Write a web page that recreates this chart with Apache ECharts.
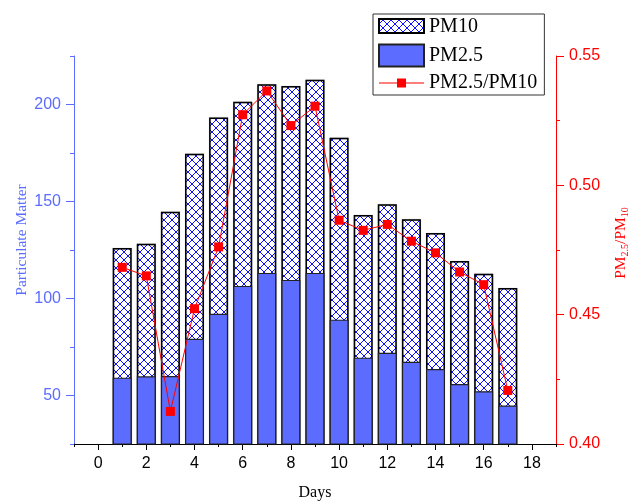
<!DOCTYPE html>
<html>
<head>
<meta charset="utf-8">
<script src="https://cdn.jsdelivr.net/npm/echarts@6/dist/echarts.min.js"></script>
<style>html,body{margin:0;padding:0;background:#fff}#c{width:635px;height:502px}</style>
</head>
<body>
<div id="c"></div>
<script>
const days = [1,2,3,4,5,6,7,8,9,10,11,12,13,14,15,16,17];
const pm10 = [126.0,128.2,144.7,174.6,193.3,201.4,210.4,209.5,212.7,182.9,143.0,148.6,140.9,133.7,119.3,112.8,105.4];
const pm25 = [59.2,59.9,60.0,79.2,92.1,106.5,113.2,109.6,113.2,89.1,69.5,72.0,67.4,63.6,55.9,52.2,44.8];
const ratio = [0.4683,0.4650,0.4126,0.4523,0.4762,0.5273,0.5365,0.5231,0.5306,0.4865,0.4826,0.4849,0.4784,0.4739,0.4665,0.4616,0.4207];
const xTicks = [0,2,4,6,8,10,12,14,16,18];
const leftTicks = [50,100,150,200];
const rightTicks = [0.40,0.45,0.50,0.55];

const tile = document.createElement('canvas');
tile.width = 8; tile.height = 8;
const g = tile.getContext('2d');
g.fillStyle = '#fff'; g.fillRect(0,0,8,8);
g.strokeStyle = '#1010ff'; g.lineWidth = 1;
g.beginPath();
g.moveTo(-1,-1); g.lineTo(9,9);
g.moveTo(-1,9); g.lineTo(9,-1);
g.stroke();

const blue = '#5b6cff';
const red = '#ff0000';
const hatchIcon = 'path://M0 0M45 22M0 3L45 3L45 17L0 17Z';
const lineIcon = 'path://M0 0M45 22M0 10.5L18 10.5L18 6.5L27 6.5L27 10.5L45 10.5L45 11.5L27 11.5L27 15.5L18 15.5L18 11.5L0 11.5Z';
const chart = echarts.init(document.getElementById('c'), null, {renderer:'canvas'});
chart.setOption({
  animation:false,
  backgroundColor:'#fff',
  grid:{left:74,right:79,top:56,bottom:58, outerBoundsMode:'none', containLabel:false},
  legend:{
    orient:'vertical', left:373, top:14, padding:[1,7,1,5],
    itemWidth:45, itemHeight:22, itemGap:4.5,
    borderColor:'#333', borderWidth:1,
    textStyle:{fontFamily:'Liberation Serif', fontSize:20, color:'#000'},
    data:[{name:'PM10', icon:hatchIcon},{name:'PM2.5', icon:'rect'},{name:'PM2.5/PM10', icon:lineIcon}]
  },
  xAxis:[{
    type:'value', min:-1, max:19, interval:1,
    name:'Days', nameLocation:'middle', nameGap:41, nameMoveOverlap:false,
    nameTextStyle:{fontFamily:'Liberation Serif', fontSize:16, color:'#000'},
    axisLine:{show:true, onZero:false, lineStyle:{color:'#000', width:1}},
    axisTick:{show:true, length:6, customValues:xTicks, lineStyle:{color:'#000'}},
    axisLabel:{fontFamily:'Liberation Sans', fontSize:16, color:'#000', margin:12, customValues:xTicks,
      formatter:v=> xTicks.includes(v) ? String(v) : ''},
    splitLine:{show:false}
  },{
    type:'value', min:-1, max:19, interval:1, position:'bottom',
    axisLine:{show:false, onZero:false},
    axisTick:{show:true, length:3, lineStyle:{color:'#000'}},
    axisLabel:{show:false}, splitLine:{show:false}
  }],
  yAxis:[{
    type:'value', min:25, max:225, interval:25, position:'left',
    name:'Particulate Matter', nameLocation:'middle', nameGap:44, nameRotate:90, nameMoveOverlap:false,
    nameTextStyle:{fontFamily:'Liberation Serif', fontSize:15.5, color:blue, padding:[0,0,0,20]},
    axisLine:{show:true, onZero:false, lineStyle:{color:blue, width:1}},
    axisTick:{show:true, length:8, customValues:leftTicks, lineStyle:{color:blue}},
    axisLabel:{fontFamily:'Liberation Sans', fontSize:16, color:blue, margin:13, customValues:leftTicks,
      formatter:v=> leftTicks.includes(v) ? String(v) : ''},
    splitLine:{show:false}
  },{
    type:'value', min:0.40, max:0.55, interval:0.05, position:'right',
    name:'PM{s|2.5}/PM{s|10}', nameLocation:'middle', nameGap:56, nameRotate:90, nameMoveOverlap:false,
    nameTextStyle:{fontFamily:'Liberation Serif', fontSize:15.5, color:red, padding:[0,0,0,14],
      rich:{s:{fontFamily:'Liberation Serif', fontSize:10, color:red, verticalAlign:'bottom', padding:[8,0,0,0]}}},
    axisLine:{show:true, onZero:false, lineStyle:{color:red, width:1}},
    axisTick:{show:true, length:8, lineStyle:{color:red}},
    minorTick:{show:true, splitNumber:2, length:4, lineStyle:{color:red}},
    axisLabel:{fontFamily:'Liberation Sans', fontSize:16, color:red, margin:13,
      formatter:v=> { const t = rightTicks.find(r=>Math.abs(r-v)<1e-6); return t!==undefined ? t.toFixed(2) : ''; }},
    splitLine:{show:false}
  },{
    type:'value', min:25, max:225, interval:25, position:'left', offset:0,
    axisLine:{show:false, onZero:false},
    axisTick:{show:true, length:4, lineStyle:{color:blue}},
    axisLabel:{show:false}, splitLine:{show:false}
  }],
  series:[{
    name:'PM10', type:'bar', xAxisIndex:0, yAxisIndex:0, barWidth:19, barGap:'-100%',
    data: days.map((d,i)=>[d,pm10[i]]),
    itemStyle:{color:{image:tile, repeat:'repeat'}, borderColor:'#000', borderWidth:1.5,
      shadowColor:'rgba(0,0,0,0.35)', shadowBlur:1, shadowOffsetX:0, shadowOffsetY:0}
  },{
    name:'PM2.5', type:'bar', xAxisIndex:0, yAxisIndex:0, barWidth:19, barGap:'-100%',
    data: days.map((d,i)=>[d,pm25[i]]),
    itemStyle:{color:blue, borderColor:'#222', borderWidth:1.2}
  },{
    name:'PM2.5/PM10', type:'line', xAxisIndex:0, yAxisIndex:1,
    data: days.map((d,i)=>[d,ratio[i]]),
    symbol:'rect', symbolSize:9,
    lineStyle:{color:red, width:1}, itemStyle:{color:red}
  }]
});
</script>
</body>
</html>
